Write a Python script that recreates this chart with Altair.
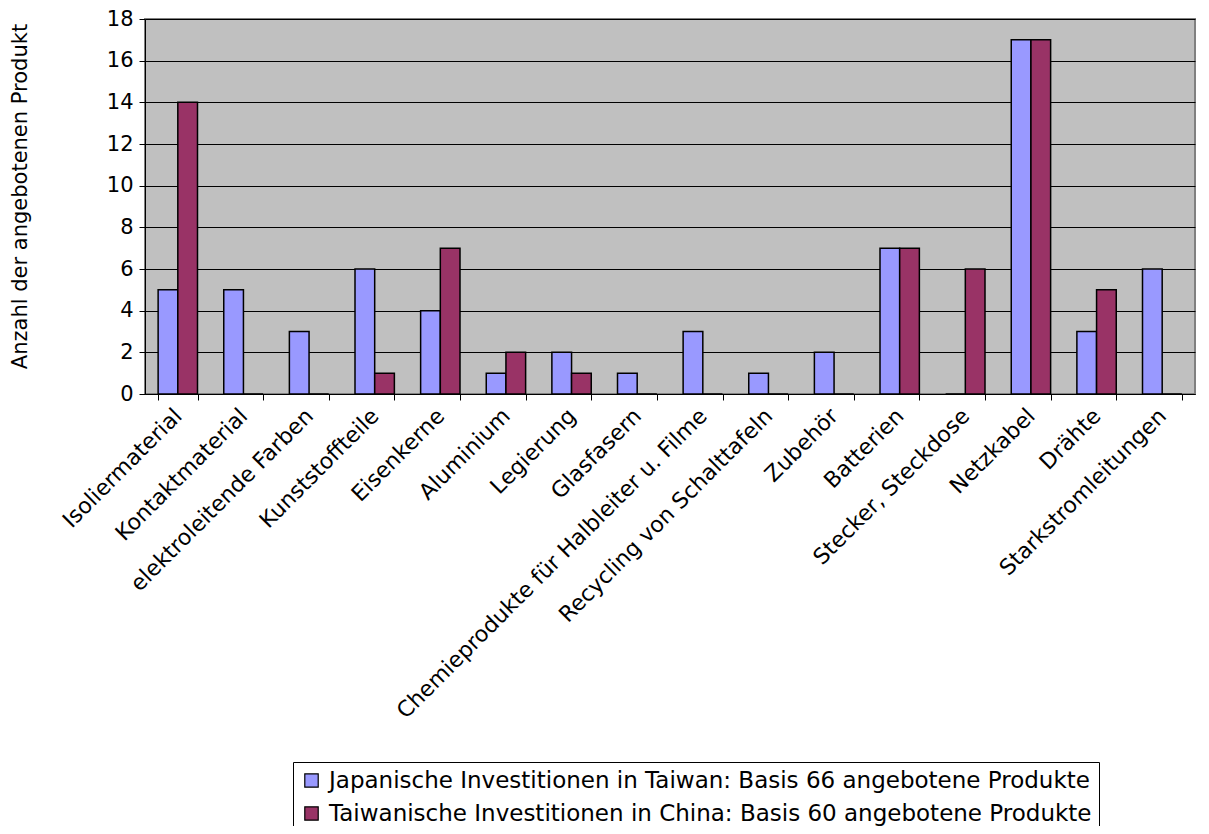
import altair as alt
import pandas as pd

categories = [
    "Isoliermaterial", "Kontaktmaterial", "elektroleitende Farben", "Kunststoffteile",
    "Eisenkerne", "Aluminium", "Legierung", "Glasfasern",
    "Chemieprodukte für Halbleiter u. Filme", "Recycling von Schalttafeln", "Zubehör",
    "Batterien", "Stecker, Steckdose", "Netzkabel", "Drähte", "Starkstromleitungen",
]
series_names = [
    "Japanische Investitionen in Taiwan: Basis 66 angebotene Produkte",
    "Taiwanische Investitionen in China: Basis 60 angebotene Produkte",
]
japan_taiwan = [5, 5, 3, 6, 4, 1, 2, 1, 3, 1, 2, 7, 0, 17, 3, 6]
taiwan_china = [14, 0, 0, 1, 7, 2, 1, 0, 0, 0, 0, 7, 6, 17, 5, 0]
colors = ["#9999FF", "#993366"]

rows = []
for i, c in enumerate(categories):
    rows.append({"cat": c, "series": series_names[0], "value": japan_taiwan[i]})
    rows.append({"cat": c, "series": series_names[1], "value": taiwan_china[i]})
df = pd.DataFrame(rows)

FONT = "DejaVu Sans"
FS = 21

chart = alt.Chart(df).mark_bar(stroke="black", strokeWidth=1.5).encode(
    x=alt.X("cat:N", sort=categories, title=None,
            scale=alt.Scale(paddingInner=0.4, paddingOuter=0.2),
            axis=alt.Axis(labelAngle=-45, labelAlign="right", labelBaseline="middle",
                          labelFontSize=22, labelFont=FONT, labelColor="black",
                          labelPadding=12, labelLimit=0, tickBand="extent",
                          tickSize=6, tickColor="black", domainColor="black",
                          labelOverlap=False, grid=False)),
    xOffset=alt.XOffset("series:N", sort=series_names),
    y=alt.Y("value:Q", title="Anzahl der angebotenen Produkt",
            scale=alt.Scale(domain=[0, 18], nice=False),
            axis=alt.Axis(values=list(range(0, 19, 2)), labelFontSize=FS, labelFont=FONT,
                          labelColor="black", titleFontSize=FS, titleFont=FONT,
                          titleFontWeight="normal", titleColor="black", titlePadding=76,
                          titleY=177,
                          tickSize=6, tickColor="black", domainColor="black",
                          gridColor="black", gridWidth=1.2, labelPadding=6)),
    color=alt.Color("series:N", sort=series_names,
                    scale=alt.Scale(domain=series_names, range=colors),
                    legend=alt.Legend(title=None, orient="none", legendX=148, legendY=743,
                                      direction="vertical", symbolType="square",
                                      symbolSize=180, symbolStrokeColor="black",
                                      symbolStrokeWidth=1.2, labelFontSize=23, labelFont=FONT,
                                      labelColor="black", labelLimit=0, rowPadding=9,
                                      strokeColor="black", fillColor="white", padding=7,
                                      labelOffset=6)),
).properties(
    width=1050, height=375,
    background="white",
    autosize=alt.AutoSizeParams(type="none"),
    padding={"left": 137, "top": 11, "right": 6, "bottom": 432},
).configure_view(
    fill="#C0C0C0", stroke="#808080", strokeWidth=2
)

chart.save("out.html", embed_options={"renderer": "svg", "actions": False})
